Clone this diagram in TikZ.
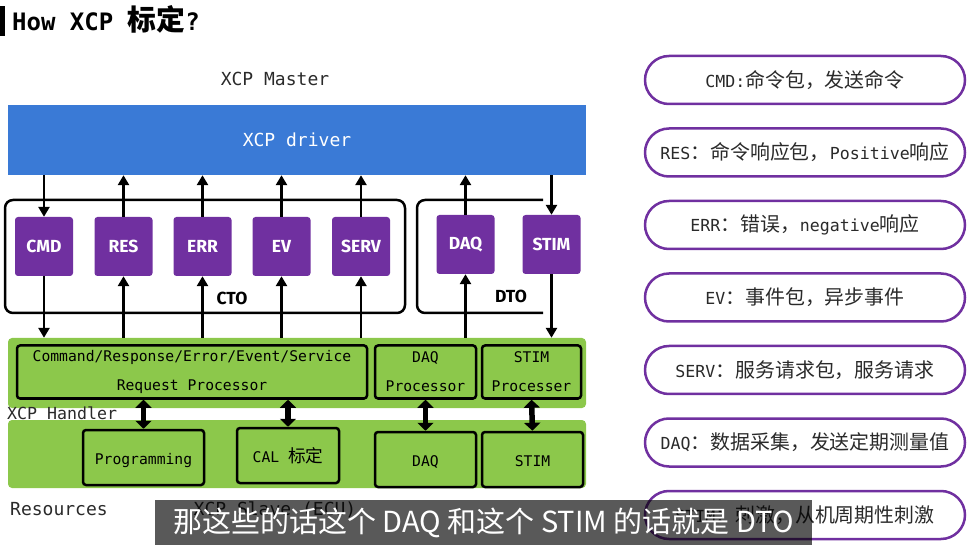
\documentclass[tikz,border=0pt]{standalone}
\usepackage{fontspec}
\setmonofont{DejaVu Sans Mono}
\newfontfamily\cjk{Noto Sans CJK SC}[Scale=1.2]
\newfontfamily\subfont{Noto Sans CJK SC}
\newfontfamily\pktfont{Fira Sans}
\usetikzlibrary{positioning,arrows.meta}
\definecolor{drvblue}{HTML}{3A7AD6}
\definecolor{pktpurple}{HTML}{7030A0}
\definecolor{hdlgreen}{HTML}{8CC84B}
\definecolor{inkdark}{HTML}{2A2A2A}

\begin{document}
\begin{tikzpicture}[x=1pt, y=-1pt,
  lbl/.style={font=\fontsize{18}{20}\selectfont\ttfamily, text=inkdark, inner sep=0pt},
  drv/.style={fill=drvblue, text=white, minimum width=578pt, minimum height=70pt,
    font=\fontsize{18}{20}\selectfont\ttfamily},
  pkt/.style={fill=pktpurple, rounded corners=3pt, text=white, minimum width=58pt, minimum height=59pt,
    font=\fontsize{17.5}{19}\selectfont\pktfont\bfseries},
  frame/.style={draw=black, line width=2.5pt, rounded corners=8pt},
  band/.style={fill=hdlgreen, rounded corners=4pt, minimum width=578pt},
  proc/.style={draw=black, fill=hdlgreen, line width=2.5pt, rounded corners=3pt, align=center,
    minimum height=53pt, font=\fontsize{14.7}{29}\selectfont\ttfamily, inner sep=1pt},
  rbox/.style={proc, minimum height=55pt, text height=14pt, text depth=0pt},
  note/.style={draw=pktpurple, fill=white, line width=2.5pt, rounded corners=24pt, minimum width=320pt,
    minimum height=48pt, text=inkdark, font=\fontsize{16.6}{18}\selectfont\ttfamily},
  arr/.style={-{Triangle[length=10pt, width=11pt]}, line width=2.8pt},
  dbl/.style={{Triangle[length=8pt, width=16pt]}-{Triangle[length=8pt, width=16pt]}, line width=5.5pt}]
\useasboundingbox (0,0) rectangle (967,545);

% title
\fill (0,6) rectangle (5,36);
\node[anchor=west, inner sep=0pt, font=\fontsize{24}{26}\selectfont\ttfamily\bfseries] (title) at (12,19)
  {How XCP {\cjk\bfseries 标定}?};

% master side
\node[lbl] (mst) at (275,79) {XCP Master};
\node[drv] (drv) at (297,140) {XCP driver};

% CTO / DTO frames
\node[frame, minimum width=400pt, minimum height=113pt] (cto) at (205,256.5) {};
\draw[frame] (543,200) -| (417,313) -- (543,313);
\node[font=\fontsize{17.5}{19}\selectfont\pktfont\bfseries] (ctol) at (232,298) {CTO};
\node[font=\fontsize{17.5}{19}\selectfont\pktfont\bfseries] (dtol) at (511,296) {DTO};

\node[pkt] (cmd) at (44,246.5) {CMD};
\node[pkt] (rsp) at (123.5,246.5) {RES};
\node[pkt] (err) at (202.5,246.5) {ERR};
\node[pkt] (ev) at (281.5,246.5) {EV};
\node[pkt] (serv) at (361,246.5) {SERV};
\node[pkt] (daq) at (465.5,244.5) {DAQ};
\node[pkt] (stim) at (551.5,244.5) {STIM};

% XCP handler
\node[band, minimum height=70pt] (hdl) at (297,373) {};
\node[proc, minimum width=350pt] (crp) at (192,372) {Command/Response/Error/Event/Service\\Request Processor};
\node[proc, minimum width=101pt] (dqp) at (425.5,372) {DAQ\\Processor};
\node[proc, minimum width=99pt] (stp) at (531.5,372) {STIM\\Processer};
\node[lbl, anchor=west, font=\fontsize{16.6}{18}\selectfont\ttfamily] (hdll) at (7,413) {XCP Handler};

% resources
\node[band, minimum height=68pt] (rsc) at (297,454) {};
\node[rbox, minimum width=121pt] (prog) at (143.5,457.5) {Programming};
\node[rbox, minimum width=102pt] (cal) at (288,455.5) {CAL {\cjk 标定}};
\node[rbox, minimum width=101pt] (daqr) at (425.5,459.5) {DAQ};
\node[rbox, minimum width=101pt] (stimr) at (532.5,459.5) {STIM};
\node[lbl, anchor=west] (rscl) at (10,509) {Resources};
\node[lbl] (slv) at (275,510) {XCP Slave (ECU)};

% connectors
\draw[arr] (drv.south -| cmd) -- (cmd.north);
\draw[arr] (rsp.north) -- (drv.south -| rsp);
\draw[arr] (err.north) -- (drv.south -| err);
\draw[arr] (ev.north) -- (drv.south -| ev);
\draw[arr] (serv.north) -- (drv.south -| serv);
\draw[arr] (daq.north) -- (drv.south -| daq);
\draw[arr] (drv.south -| stim) -- (stim.north);
\draw[arr] (cmd.south) -- (hdl.north -| cmd);
\draw[arr] (hdl.north -| rsp) -- (rsp.south);
\draw[arr] (hdl.north -| err) -- (err.south);
\draw[arr] (hdl.north -| ev) -- (ev.south);
\draw[arr] (hdl.north -| serv) -- (serv.south);
\draw[arr] (hdl.north -| daq) -- (daq.south);
\draw[arr] (stim.south) -- (hdl.north -| stim);
\draw[dbl] (crp.south -| prog) -- (prog.north);
\draw[dbl] (crp.south -| cal) -- (cal.north);
\draw[dbl] (dqp.south) -- (daqr.north);
\draw[dbl] (stp.south) -- (stimr.north);

% packet notes
\node[note] (ncmd) at (805,80) {CMD:{\cjk 命令包，发送命令}};
\node[note, below=22pt of ncmd] (nres) {RES{\cjk ：命令响应包，}Positive{\cjk 响应}};
\node[note, below=22pt of nres] (nerr) {ERR{\cjk ：错误，}negative{\cjk 响应}};
\node[note, below=22pt of nerr] (nev) {EV{\cjk ：事件包，异步事件}};
\node[note, below=22pt of nev] (nserv) {SERV{\cjk ：服务请求包，服务请求}};
\node[note, below=22pt of nserv] (ndaq) {DAQ{\cjk ：数据采集，发送定期测量值}};
\node[note, below=22pt of ndaq] (nstim) {STIM{\cjk ：刺激，从机周期性刺激}};

% subtitle
\node[fill=black, fill opacity=0.65, text opacity=1, text=white, minimum width=657pt, minimum height=45pt,
  inner sep=0pt, font=\fontsize{29}{30}\selectfont\subfont] (sub) at (483.5,522.5)
  {那这些的话这个 DAQ 和这个 STIM 的话就是 DTO};
\end{tikzpicture}
\end{document}
